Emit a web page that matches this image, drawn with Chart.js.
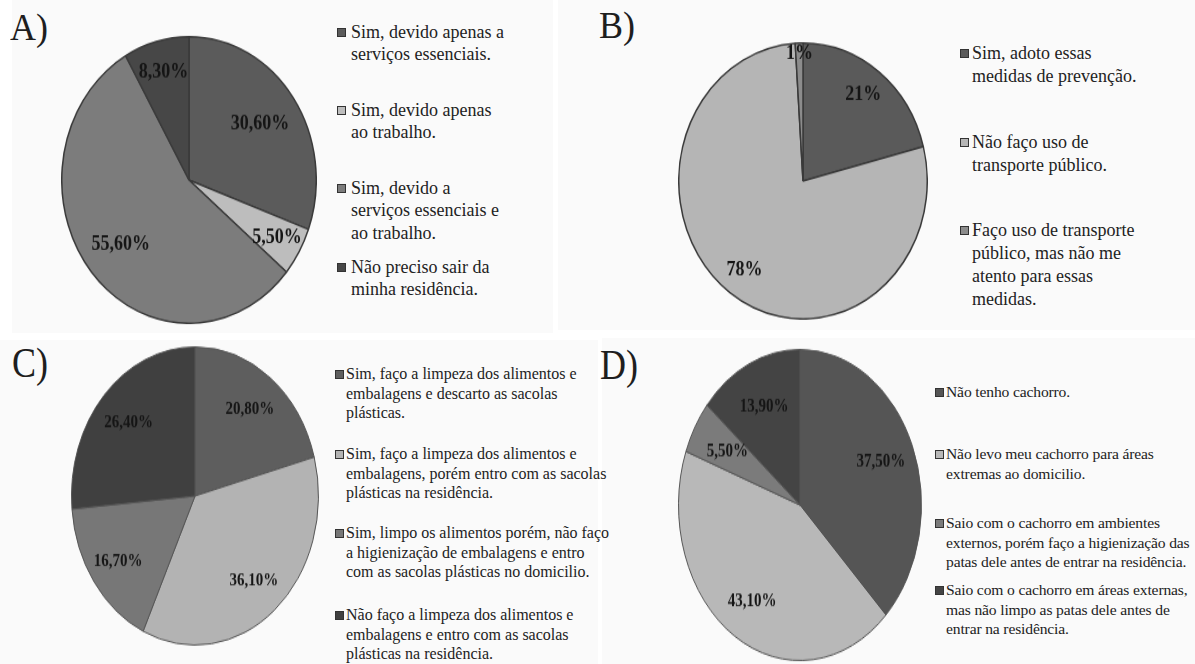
<!DOCTYPE html>
<html>
<head>
<meta charset="utf-8">
<script src="https://cdn.jsdelivr.net/npm/chart.js@4.4.0/dist/chart.umd.min.js"></script>
<style>
  body { margin: 0; background: #fff; }
  #page { position: relative; width: 1195px; height: 664px; overflow: hidden;
          font-family: "Liberation Serif", "Times New Roman", serif; color: #222; }
  .bg { position: absolute; background: #fafafa; }
  .tag { position: absolute; font-size: 36px; line-height: 1; color: #1e1e1e; transform-origin: left top; }
  .pie { position: absolute; transform-origin: center center; }
  .item { position: absolute; white-space: nowrap; }
  .mark { position: absolute; left: 0; width: 7px; height: 7px; border: 1px solid #333; }
</style>
</head>
<body>
<div id="page"></div>
<script>
// A) saídas de casa
const catsA = [
  ['Sim, devido apenas a', 'serviços essenciais.'],
  ['Sim, devido apenas', 'ao trabalho.'],
  ['Sim, devido a', 'serviços essenciais e', 'ao trabalho.'],
  ['Não preciso sair da', 'minha residência.']
];
const valsA = [30.6, 5.5, 55.6, 8.3];

// B) transporte público
const catsB = [
  ['Sim, adoto essas', 'medidas de prevenção.'],
  ['Não faço uso de', 'transporte público.'],
  ['Faço uso de transporte', 'público, mas não me', 'atento para essas', 'medidas.']
];
const valsB = [21, 78, 1];

// C) alimentos e sacolas
const catsC = [
  ['Sim, faço a limpeza dos alimentos e', 'embalagens e descarto as sacolas', 'plásticas.'],
  ['Sim, faço a limpeza dos alimentos e', 'embalagens, porém entro com as sacolas', 'plásticas na residência.'],
  ['Sim, limpo os alimentos porém, não faço', 'a higienização de embalagens e entro', 'com as sacolas plásticas no domicilio.'],
  ['Não faço a limpeza dos alimentos e', 'embalagens e entro com as sacolas', 'plásticas na residência.']
];
const valsC = [20.8, 36.1, 16.7, 26.4];

// D) cachorro
const catsD = [
  ['Não tenho cachorro.'],
  ['Não levo meu cachorro para áreas', 'extremas ao domicilio.'],
  ['Saio com o cachorro em ambientes', 'externos, porém faço a higienização das', 'patas dele antes de entrar na residência.'],
  ['Saio com o cachorro em áreas externas,', 'mas não limpo as patas dele antes de', 'entrar na residência.']
];
const valsD = [37.5, 43.1, 5.5, 13.9];

const page = document.getElementById('page');

// light panel backgrounds
[[12, 0, 541, 333], [558, 0, 637, 330], [0, 340, 598, 324], [602, 338, 593, 326]].forEach(r => {
  const d = document.createElement('div');
  d.className = 'bg';
  Object.assign(d.style, { left: r[0] + 'px', top: r[1] + 'px', width: r[2] + 'px', height: r[3] + 'px' });
  page.appendChild(d);
});

function fmt(v, dec) {
  return v.toFixed(dec).replace('.', ',') + '%';
}

// percent labels inside the slices
const pctLabels = {
  id: 'pctLabels',
  afterDatasetsDraw(chart, args, opts) {
    const ctx = chart.ctx;
    const meta = chart.getDatasetMeta(0);
    const vals = chart.data.datasets[0].data;
    ctx.save();
    ctx.font = 'bold ' + opts.size + 'px "Liberation Serif", serif';
    ctx.fillStyle = '#151515';
    ctx.textAlign = 'center';
    ctx.textBaseline = 'middle';
    meta.data.forEach((arc, i) => {
      const p = arc.getProps(['x', 'y', 'startAngle', 'endAngle', 'outerRadius'], true);
      const mid = (p.startAngle + p.endAngle) / 2;
      const rr = p.outerRadius * opts.at[i];
      ctx.fillText(fmt(vals[i], opts.dec), p.x + Math.cos(mid) * rr, p.y + Math.sin(mid) * rr);
    });
    ctx.restore();
  }
};

function makePanel(p) {
  // letter tag
  const t = document.createElement('div');
  t.className = 'tag';
  t.textContent = p.tag;
  t.style.left = p.tagX + 'px';
  t.style.top = p.tagY + 'px';
  t.style.transform = 'scaleY(' + p.tagSy + ')';
  page.appendChild(t);

  // pie, drawn round and stretched into an ellipse
  const size = 2 * p.r + 2;
  const cv = document.createElement('canvas');
  cv.className = 'pie';
  cv.width = size;
  cv.height = size;
  cv.style.left = (p.cx - size / 2) + 'px';
  cv.style.top = (p.cy - size / 2) + 'px';
  cv.style.transform = 'scaleY(' + p.sy + ')';
  page.appendChild(cv);

  new Chart(cv.getContext('2d'), {
    type: 'pie',
    data: {
      labels: p.cats,
      datasets: [{
        data: p.vals,
        backgroundColor: p.colors,
        borderColor: p.border,
        borderWidth: p.bw
      }]
    },
    options: {
      responsive: false,
      animation: false,
      layout: { padding: 0 },
      plugins: {
        legend: { display: false },
        tooltip: { enabled: false },
        pctLabels: { size: p.labelSize, at: p.labelAt, dec: p.dec }
      }
    },
    plugins: [pctLabels]
  });

  // legend
  p.cats.forEach((lines, i) => {
    const it = document.createElement('div');
    it.className = 'item';
    it.style.left = p.legX + 'px';
    it.style.top = (p.legY[i] - p.lh / 2) + 'px';
    it.style.fontSize = p.fs + 'px';
    it.style.lineHeight = p.lh + 'px';
    if (p.ls) it.style.letterSpacing = p.ls + 'px';
    const m = document.createElement('span');
    m.className = 'mark';
    m.style.background = p.colors[i];
    m.style.top = (p.lh / 2 - 4) + 'px';
    it.appendChild(m);
    const tx = document.createElement('div');
    tx.style.marginLeft = p.textOff + 'px';
    tx.innerHTML = lines.join('<br>');
    it.appendChild(tx);
    page.appendChild(it);
  });
}

makePanel({
  tag: 'A)', tagX: 10, tagY: 8, tagSy: 1.05,
  cats: catsA, vals: valsA,
  colors: ['#5b5b5b', '#bdbdbd', '#7c7c7c', '#474747'], border: '#3a3a3a', bw: 1.5,
  cx: 189, cy: 180, r: 127, sy: 1.126,
  labelSize: 18, labelAt: [0.68, 0.8, 0.7, 0.78], dec: 2,
  legX: 337, textOff: 14, fs: 18, lh: 22.5, legY: [32, 110, 188, 267]
});

makePanel({
  tag: 'B)', tagX: 599, tagY: 6, tagSy: 1.05,
  cats: catsB, vals: valsB,
  colors: ['#5a5a5a', '#b5b5b5', '#8c8c8c'], border: '#3a3a3a', bw: 1.5,
  cx: 803, cy: 181, r: 124, sy: 1.11,
  labelSize: 18, labelAt: [0.79, 0.8, 0.92], dec: 0,
  legX: 960, textOff: 12, fs: 18, lh: 23, legY: [53, 142, 230]
});

makePanel({
  tag: 'C)', tagX: 12, tagY: 342, tagSy: 1.15,
  cats: catsC, vals: valsC,
  colors: ['#5e5e5e', '#b3b3b3', '#777777', '#404040'], border: '#555555', bw: 1,
  cx: 195, cy: 496, r: 123, sy: 1.207,
  labelSize: 15, labelAt: [0.73, 0.74, 0.76, 0.73], dec: 2,
  legX: 335, textOff: 11, fs: 16, lh: 19.5, legY: [374, 454, 533, 615]
});

makePanel({
  tag: 'D)', tagX: 600, tagY: 344, tagSy: 1.15,
  cats: catsD, vals: valsD,
  colors: ['#555555', '#b8b8b8', '#7b7b7b', '#444444'], border: '#555555', bw: 1,
  cx: 800, cy: 505, r: 121, sy: 1.28,
  labelSize: 15, labelAt: [0.72, 0.73, 0.69, 0.7], dec: 2,
  legX: 935, textOff: 11, fs: 15.6, lh: 19.5, ls: -0.15, legY: [392, 454, 523, 590]
});
</script>
</body>
</html>
